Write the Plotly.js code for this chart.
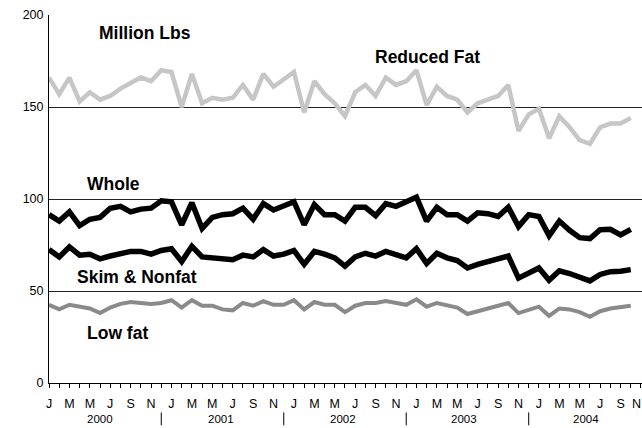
<!DOCTYPE html>
<html>
<head>
<meta charset="utf-8">
<script src="https://cdn.plot.ly/plotly-3.0.1.min.js"></script>
<style>
  html, body { margin: 0; padding: 0; background: #fff; }
  #chart { width: 642px; height: 428px; }
</style>
</head>
<body>
<div id="chart"></div>
<script>
// Monthly data, Jan 2000 - Oct 2004 (million lbs)
const years = ['2000', '2001', '2002', '2003', '2004'];
const monthLetters = ['J', 'F', 'M', 'A', 'M', 'J', 'J', 'A', 'S', 'O', 'N', 'D'];

const reducedFat = [166,157,166,153,158,154,156,160,163,166,164,170,
                    169,150,168,152,155,154,155,162,154,168,161,165,
                    169,147,164,157,152,145,158,162,156,166,162,164,
                    170,151,161,156,154,147,152,154,156,162,137,146,
                    149,133,145,139,132,130,139,141,141,144];
const whole = [91.5,88,93,85.5,89,90,95,96,93,94.5,95,99,
               98.5,86,98,84,90,91.5,92,95,89,97.5,94,96.5,
               98.5,86,97,91.5,91.5,88,95.5,95.5,91,97.5,96,98.5,
               101,88,95.5,91.5,91.5,88,92.5,92,90.5,95.5,85,91.5,
               90.5,80,88,83,79,78.5,83.3,83.5,80.5,83.5];
const skim = [72.5,68.5,74,69.5,70,67.5,69,70.5,71.5,71.5,70,72,
              73,66,74.3,68.5,68,68,67,69.5,68.5,72.5,69,70,
              72,64.5,71.5,70,68,63.5,68.5,70.5,69,71.5,70,68,
              73,65,70.5,68,66.5,62.5,64.5,66,67,69,57,60,
              62.5,55.8,61,59.5,57.5,55.5,59,60.5,60.7,61.6];
const lowfat = [42.5,40,42.5,41.5,40.5,38,41,43,44,43.5,43,43.5,
                45,41,45,42,42,40,39.5,43.5,42,44.5,42.5,42.5,
                45,40,44,42.5,42.5,38.5,42,43.5,43.5,44.5,43.5,42.5,
                45.5,41.5,43.5,42.5,41,37.5,39,40.5,41.5,43.5,38,40,
                41.5,36.5,40.5,40,38.5,36,39,40.5,41.5,42];

const seriesLabels = ['Million Lbs', 'Reduced Fat', 'Whole', 'Skim & Nonfat', 'Low fat'];

const FONT = 'Liberation Sans, Arial, Helvetica, sans-serif';
const monthIdx = reducedFat.map((_, i) => i);

// ticks every month through Nov 2004, labels every second month
const lastTick = years.length * 12 - 2;
const tickVals = [];
const tickText = [];
for (let i = 0; i <= lastTick; i++) {
  tickVals.push(i);
  tickText.push(i % 2 === 0 && i < lastTick ? monthLetters[i % 12] : '');
}
const edgeLabel = monthLetters[lastTick % 12];

function tr(y, color, width) {
  return { x: monthIdx, y: y, type: 'scatter', mode: 'lines',
           line: { color: color, width: width, shape: 'linear' },
           hoverinfo: 'skip', showlegend: false };
}

const data = [
  tr(reducedFat, '#c6c6c6', 4.5),
  tr(whole, '#000000', 5.5),
  tr(skim, '#000000', 5.5),
  tr(lowfat, '#8a8a8a', 4)
];

const labelPos = [
  [0.162, 0.951], [0.639, 0.887], [0.109, 0.541], [0.148, 0.289], [0.115, 0.137]
];
const annotations = seriesLabels.map((t, k) => ({
  text: '<b>' + t.replace('&', '&amp;') + '</b>', xref: 'paper', yref: 'paper',
  x: labelPos[k][0], y: labelPos[k][1], xanchor: 'center', yanchor: 'middle',
  showarrow: false, font: { family: FONT, size: 17.5, color: '#000' }
}));
years.forEach((yr, k) => {
  annotations.push({
    text: yr, xref: 'x', yref: 'paper', x: 12 * k + 5 - 0.1 * k, y: -0.099,
    xanchor: 'center', yanchor: 'middle', showarrow: false,
    font: { family: FONT, size: 11.5, color: '#000' }
  });
});
// last month label sits against the right edge of the chart
annotations.push({
  text: edgeLabel, xref: 'paper', yref: 'paper', x: 1, y: -0.057,
  xanchor: 'right', yanchor: 'middle', showarrow: false, borderpad: 0,
  font: { family: FONT, size: 12.5, color: '#000' }
});

const shapes = [];
for (let k = 1; k < years.length; k++) {
  shapes.push({ type: 'line', xref: 'x', yref: 'paper', x0: 12 * k - 1, x1: 12 * k - 1,
                y0: -0.08, y1: -0.115, line: { color: '#000', width: 1 } });
}

const layout = {
  width: 642, height: 428,
  margin: { l: 49, r: 0, t: 15, b: 45 },
  paper_bgcolor: '#fff', plot_bgcolor: '#fff',
  font: { family: FONT, color: '#000' },
  showlegend: false,
  xaxis: {
    range: [0, 58.1], tickmode: 'array', tickvals: tickVals, ticktext: tickText,
    ticks: 'outside', ticklen: 4, tickwidth: 1, tickcolor: '#000',
    showline: true, linecolor: '#000', linewidth: 1,
    showgrid: false, zeroline: false,
    tickfont: { family: FONT, size: 12.5, color: '#000' },
    ticklabelstandoff: 5, fixedrange: true
  },
  yaxis: {
    range: [0, 200], tickmode: 'array', tickvals: [0, 50, 100, 150, 200],
    ticks: '', showline: true, linecolor: '#000', linewidth: 1,
    showgrid: true, gridcolor: '#222', gridwidth: 1, zeroline: false,
    tickfont: { family: FONT, size: 12.5, color: '#000' },
    ticklabelstandoff: 2, fixedrange: true
  },
  annotations: annotations,
  shapes: shapes
};

Plotly.newPlot('chart', data, layout, { staticPlot: true, displayModeBar: false });
</script>
</body>
</html>
